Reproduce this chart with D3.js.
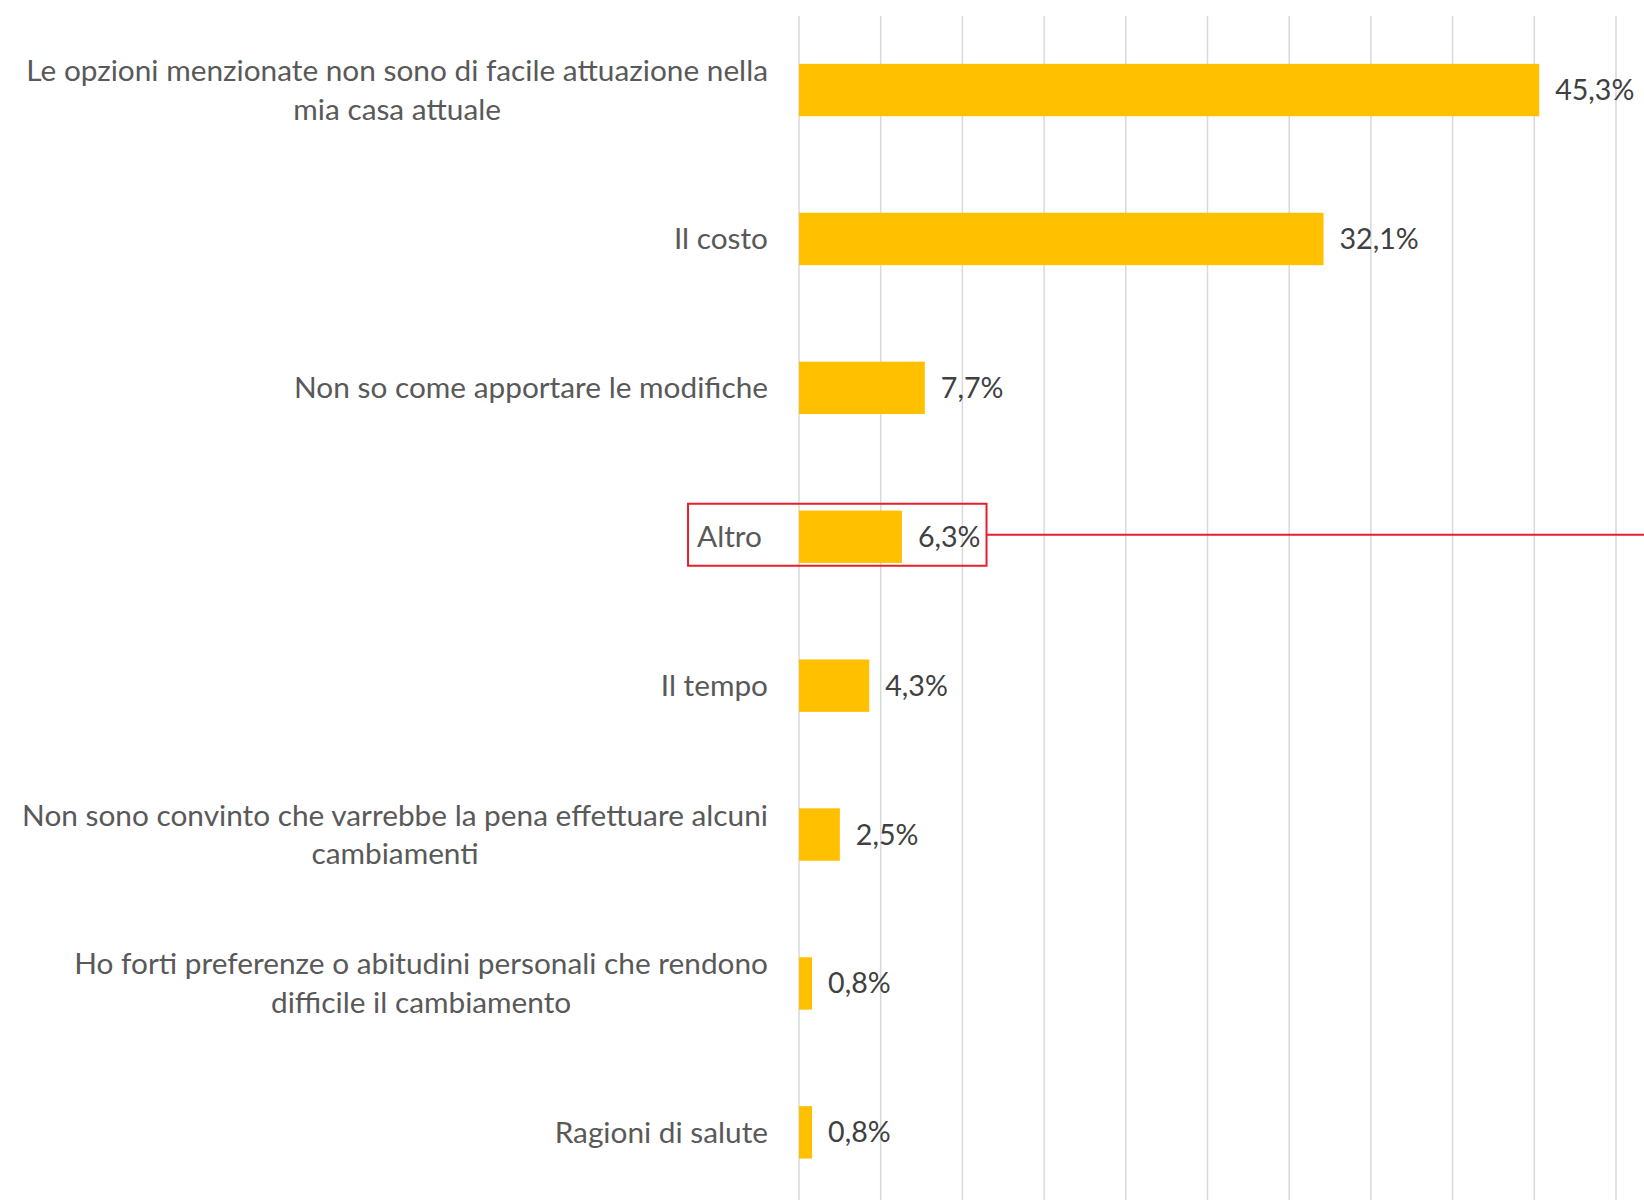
<!DOCTYPE html>
<html>
<head>
<meta charset="utf-8">
<script src="https://cdn.jsdelivr.net/npm/d3@7"></script>
<style>
  html, body { margin: 0; padding: 0; background: #fff; }
  #canvas { width: 1644px; height: 1200px; overflow: hidden; }
</style>
</head>
<body>
<div id="canvas"></div>
<script>
// data
var categories = [
  "Le opzioni menzionate non sono di facile attuazione nella mia casa attuale",
  "Il costo",
  "Non so come apportare le modifiche",
  "Altro",
  "Il tempo",
  "Non sono convinto che varrebbe la pena effettuare alcuni cambiamenti",
  "Ho forti preferenze o abitudini personali che rendono difficile il cambiamento",
  "Ragioni di salute"
];
// how each category label wraps
var labelLines = [
  ["Le opzioni menzionate non sono di facile attuazione nella", "mia casa attuale"],
  ["Il costo"],
  ["Non so come apportare le modifiche"],
  ["Altro"],
  ["Il tempo"],
  ["Non sono convinto che varrebbe la pena effettuare alcuni", "cambiamenti"],
  ["Ho forti preferenze o abitudini personali che rendono", "difficile il cambiamento"],
  ["Ragioni di salute"]
];
var values = [45.3, 32.1, 7.7, 6.3, 4.3, 2.5, 0.8, 0.8];
var highlighted = "Altro";

var width = 1644, height = 1200;
var font = "Lato, 'Open Sans', sans-serif";
var labelSize = 29.8;
var valueSize = 28.6;

var svg = d3.select("#canvas")
  .append("svg")
  .attr("width", width)
  .attr("height", height);

var x = d3.scaleLinear()
  .domain([0, 50])
  .range([799, 1616]);

var y = d3.scaleBand()
  .domain(categories)
  .range([15.6, 1206.8])
  .paddingInner(0.648)
  .paddingOuter(0.324);

var it = d3.formatLocale({decimal: ",", thousands: ".", grouping: [3], currency: ["", "€"]});
var fmt = function(v) { return it.format(".1f")(v) + "%"; };

// vertical gridlines
svg.append("g")
  .selectAll("line")
  .data(x.ticks(10))
  .enter()
  .append("line")
    .attr("x1", function(d) { return x(d); })
    .attr("x2", function(d) { return x(d); })
    .attr("y1", 16)
    .attr("y2", height)
    .style("stroke", "#d9d9d9")
    .style("stroke-width", 1.5);

// bars
svg.append("g")
  .selectAll("rect")
  .data(values)
  .enter()
  .append("rect")
    .attr("x", x(0))
    .attr("y", function(d, i) { return y(categories[i]); })
    .attr("width", function(d) { return x(d) - x(0); })
    .attr("height", y.bandwidth())
    .style("fill", "#FFC000");

// value labels
var valueLabels = svg.append("g")
  .selectAll("text")
  .data(values)
  .enter()
  .append("text")
    .attr("x", function(d) { return x(d) + 16; })
    .attr("y", function(d, i) { return y(categories[i]) + y.bandwidth() / 2; })
    .attr("dy", "0.35em")
    .style("font-family", font)
    .style("font-size", valueSize + "px")
    .style("fill", "#404040")
    .text(fmt);

// category labels: block right aligned, lines centred on each other
var labelRight = 768;
var lineGap = 38.8;
var labelGroups = svg.append("g")
  .selectAll("g")
  .data(categories)
  .enter()
  .append("g");

labelGroups.each(function(cat, i) {
  var g = d3.select(this);
  var lines = labelLines[i];
  var cy = y(cat) + y.bandwidth() / 2;
  var texts = lines.map(function(line, j) {
    return g.append("text")
      .attr("y", cy + (j - (lines.length - 1) / 2) * lineGap)
      .attr("dy", "0.35em")
      .attr("text-anchor", "middle")
      .style("font-family", font)
      .style("font-size", labelSize + "px")
      .style("fill", "#595959")
      .text(line);
  });
  var maxW = d3.max(texts, function(t) { return t.node().getComputedTextLength(); });
  // the boxed label sits a little further in
  var right = cat === highlighted ? labelRight - 6 : labelRight;
  texts.forEach(function(t) { t.attr("x", right - maxW / 2); });
});

// highlight box round "Altro" and its pointer line
var hi = categories.indexOf(highlighted);
var hiLabel = labelGroups.filter(function(d) { return d === highlighted; }).select("text").node().getBBox();
var hiValue = valueLabels.filter(function(d, i) { return i === hi; }).node().getBBox();
var boxX0 = hiLabel.x - 9, boxX1 = hiValue.x + hiValue.width + 6;
var boxCy = y(highlighted) + y.bandwidth() / 2 - 2;

svg.append("rect")
  .attr("x", boxX0)
  .attr("y", boxCy - 31)
  .attr("width", boxX1 - boxX0)
  .attr("height", 62)
  .style("fill", "none")
  .style("stroke", "#e5202b")
  .style("stroke-width", 2);

svg.append("line")
  .attr("x1", boxX1)
  .attr("x2", width)
  .attr("y1", boxCy)
  .attr("y2", boxCy)
  .style("stroke", "#e5202b")
  .style("stroke-width", 2);
</script>
</body>
</html>
